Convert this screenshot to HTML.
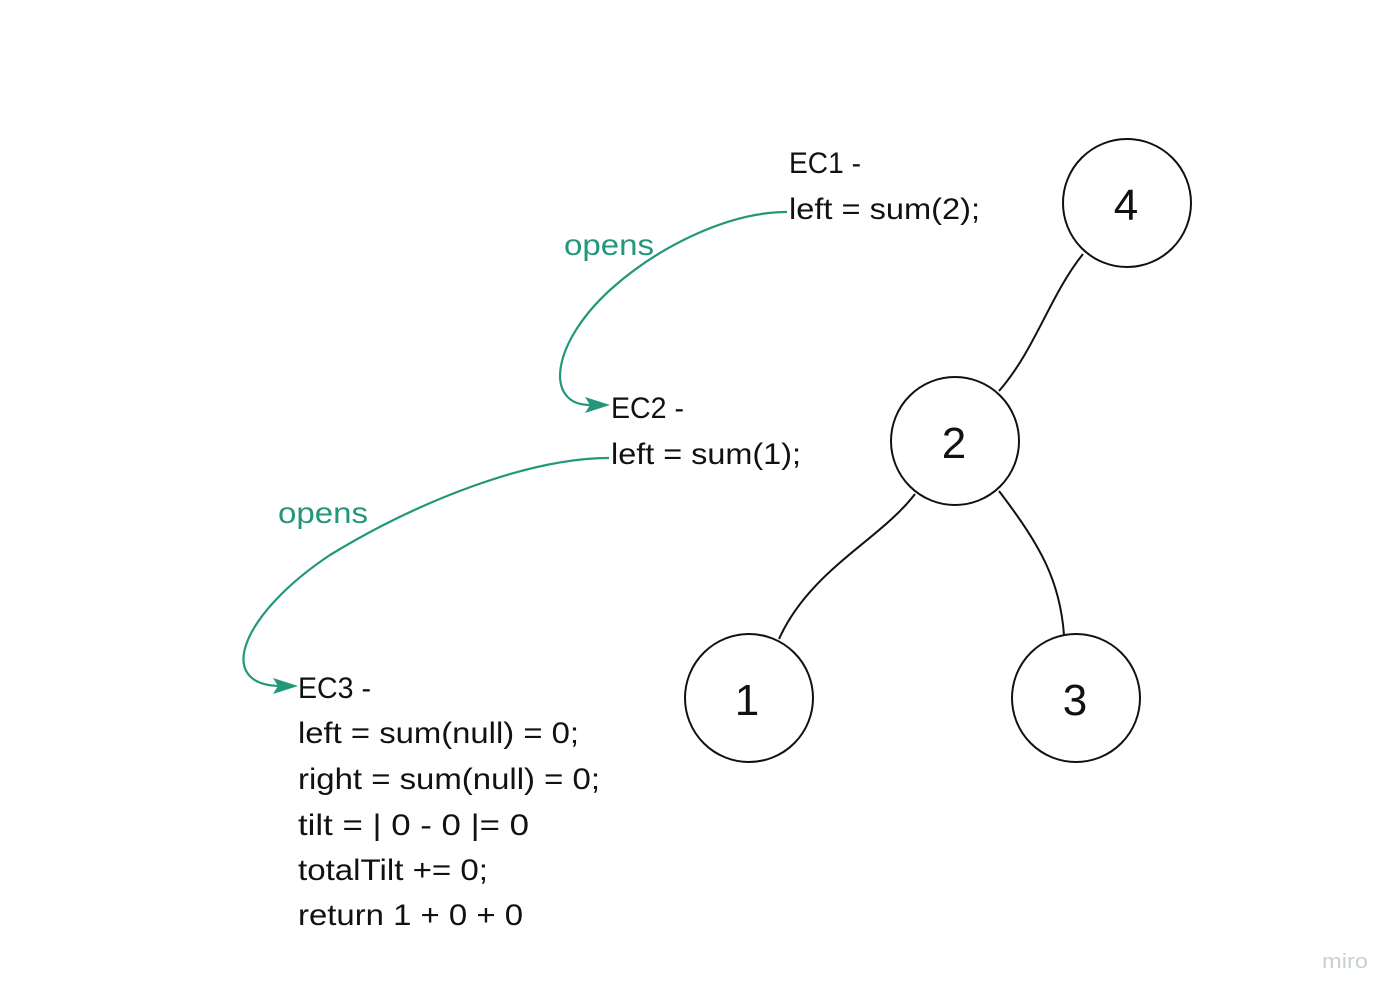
<!DOCTYPE html>
<html><head><meta charset="utf-8"><style>
html,body{margin:0;padding:0;background:#fff;}
svg{display:block;}
text{font-family:"Liberation Sans",sans-serif;}
</style></head><body>
<svg width="1400" height="1001" viewBox="0 0 1400 1001" xmlns="http://www.w3.org/2000/svg">
<rect width="1400" height="1001" fill="#fff"/>
<g fill="none" stroke="#111" stroke-width="2">
<circle cx="1127" cy="203" r="64"/>
<circle cx="955" cy="441" r="64"/>
<circle cx="749" cy="698" r="64"/>
<circle cx="1076" cy="698" r="64"/>
<path d="M1083 254 C1050 295 1035 350 999 391"/>
<path d="M915 494 C880 540 810 570 779 639"/>
<path d="M999 491 C1040 545 1060 580 1064 635"/>
</g>
<g font-size="44" fill="#111" text-anchor="middle">
<text x="1126" y="220">4</text>
<text x="954" y="458">2</text>
<text x="747" y="715">1</text>
<text x="1075" y="715">3</text>
</g>
<g fill="none" stroke="#23977b" stroke-width="2.2">
<path d="M787 212 C730 212 660 245 610 290 C550 345 545 405 590 405"/>
<path d="M609 458 C530 458 420 500 330 555 C240 615 215 685 280 686"/>
</g>
<g fill="#23977b">
<polygon points="610,405 585,397 590,405 585,413"/>
<polygon points="298,686 273,678 278,686 273,694"/>
</g>
<g font-size="30" fill="#23977b">
<text x="564" y="255" textLength="90" lengthAdjust="spacingAndGlyphs">opens</text>
<text x="278" y="523" textLength="90" lengthAdjust="spacingAndGlyphs">opens</text>
</g>
<g font-size="30" fill="#111">
<text x="789" y="173" textLength="72" lengthAdjust="spacingAndGlyphs">EC1 -</text>
<text x="789" y="219" textLength="191" lengthAdjust="spacingAndGlyphs">left = sum(2);</text>
<text x="611" y="418" textLength="73" lengthAdjust="spacingAndGlyphs">EC2 -</text>
<text x="611" y="464" textLength="190" lengthAdjust="spacingAndGlyphs">left = sum(1);</text>
<text x="298" y="698" textLength="73" lengthAdjust="spacingAndGlyphs">EC3 -</text>
<text x="298" y="743" textLength="281" lengthAdjust="spacingAndGlyphs">left = sum(null) = 0;</text>
<text x="298" y="789" textLength="302" lengthAdjust="spacingAndGlyphs">right = sum(null) = 0;</text>
<text x="298" y="835" textLength="231" lengthAdjust="spacingAndGlyphs">tilt = | 0 - 0 |= 0</text>
<text x="298" y="880" textLength="190" lengthAdjust="spacingAndGlyphs">totalTilt += 0;</text>
<text x="298" y="925" textLength="225" lengthAdjust="spacingAndGlyphs">return 1 + 0 + 0</text>
</g>
<text x="1322" y="968" font-size="20" fill="#c8d0d4" textLength="46" lengthAdjust="spacingAndGlyphs">miro</text>
</svg>
</body></html>
